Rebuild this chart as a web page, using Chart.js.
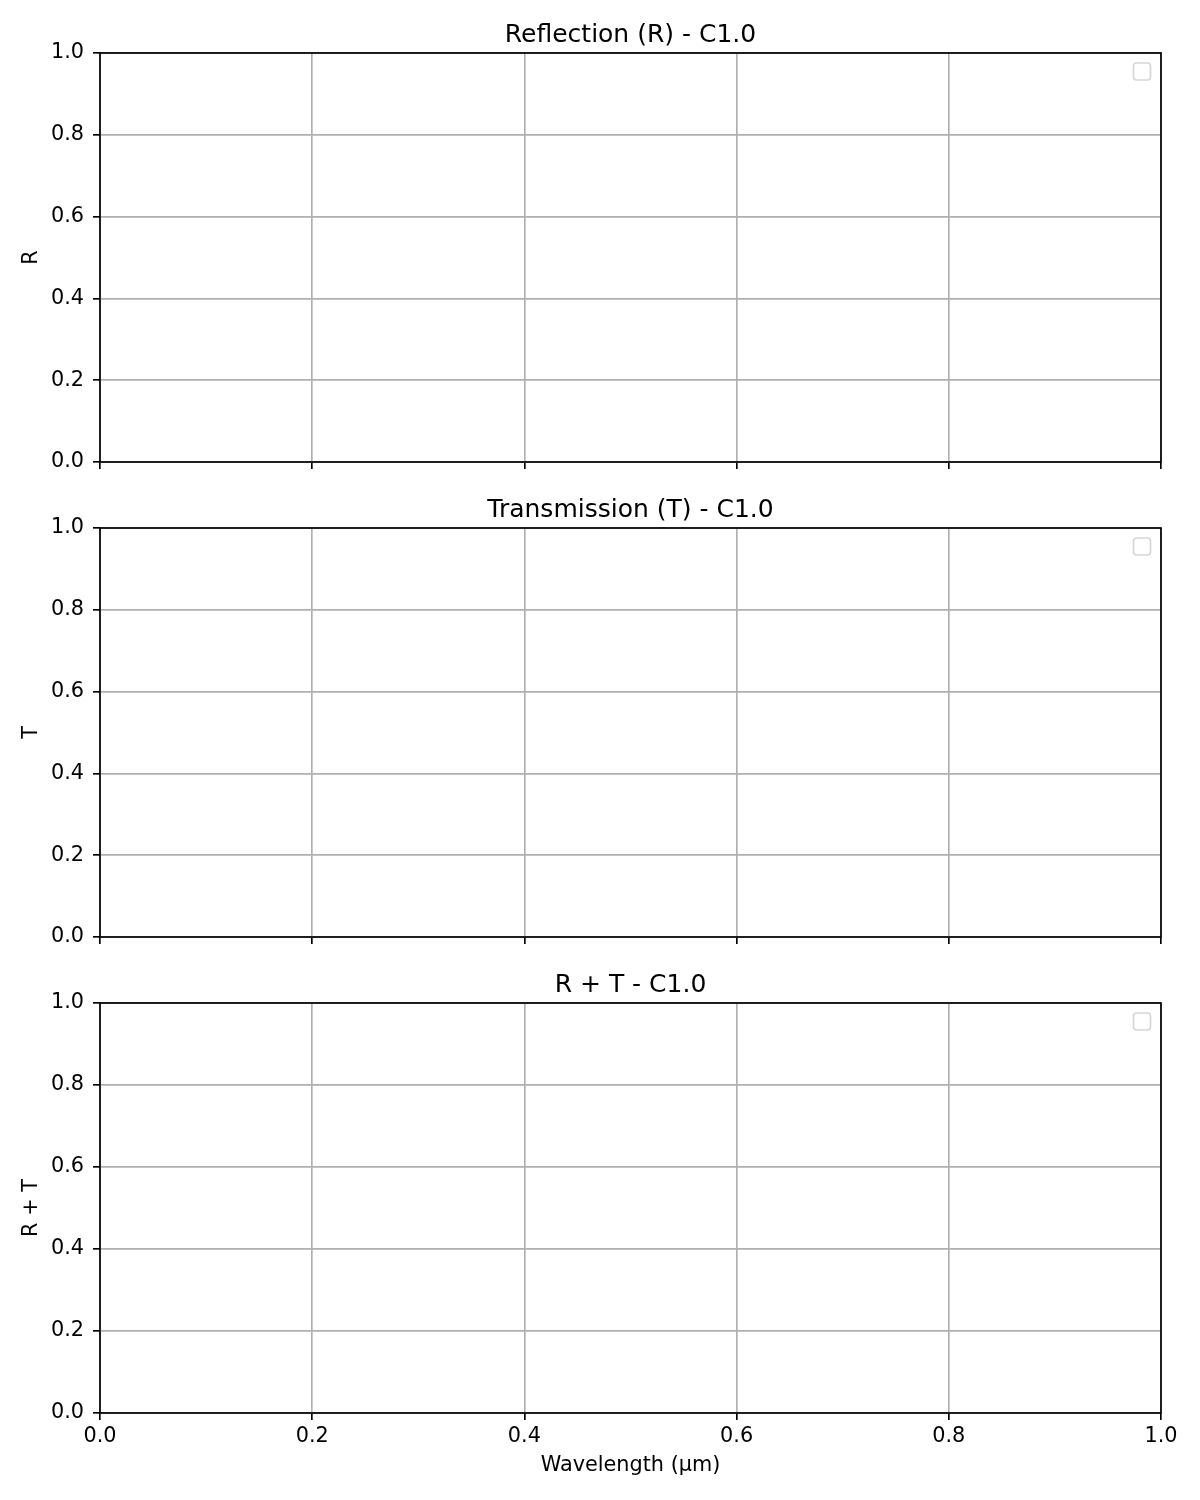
<!DOCTYPE html>
<html>
<head>
<meta charset="utf-8">
<script src="https://cdn.jsdelivr.net/npm/chart.js@4/dist/chart.umd.min.js"></script>
<style>
  html, body { margin: 0; padding: 0; background: #ffffff; }
  #wrap { position: relative; width: 1200px; height: 1500px; background: #ffffff; }
  .panel { position: absolute; left: 0; width: 1200px; }
  canvas { display: block; }
</style>
</head>
<body>
<div id="wrap">
  <div class="panel" style="top:0px;height:500px"><canvas id="c1" width="1200" height="500"></canvas></div>
  <div class="panel" style="top:475px;height:500px"><canvas id="c2" width="1200" height="500"></canvas></div>
  <div class="panel" style="top:950px;height:550px"><canvas id="c3" width="1200" height="550"></canvas></div>
</div>
<script>
// ---- data (the reference panels contain no plotted series) ----
const xTicks = [0.0, 0.2, 0.4, 0.6, 0.8, 1.0];
const yTicks = [0.0, 0.2, 0.4, 0.6, 0.8, 1.0];
const panelTitles = ['Reflection (R) - C1.0', 'Transmission (T) - C1.0', 'R + T - C1.0'];
const yLabels = ['R', 'T', 'R + T'];
const xLabel = 'Wavelength (\u00b5m)';
const seriesR = [];
const seriesT = [];
const seriesRT = [];
const panelSeries = [seriesR, seriesT, seriesRT];

const FONT = "'DejaVu Sans', 'Liberation Sans', sans-serif";
const TICK_PX = 20.8;
const TITLE_PX = 25;
const LW = 1.67;

const framePlugin = {
  id: 'frameAndDecor',
  afterDraw(chart, args, opts) {
    const { ctx, chartArea: a } = chart;
    ctx.save();
    // empty legend box (upper right)
    const bw = 17, bh = 17;
    const bx = a.right - 10.5 - bw, by = a.top + 10;
    ctx.beginPath();
    if (ctx.roundRect) ctx.roundRect(bx, by, bw, bh, 3); else ctx.rect(bx, by, bw, bh);
    ctx.fillStyle = 'rgba(255,255,255,0.8)';
    ctx.fill();
    ctx.strokeStyle = '#d6d6d6';
    ctx.lineWidth = LW;
    ctx.stroke();
    // axes frame
    ctx.strokeStyle = '#000000';
    ctx.lineWidth = LW;
    ctx.strokeRect(a.left, a.top, a.right - a.left, a.bottom - a.top);
    // title
    ctx.fillStyle = '#000000';
    ctx.font = TITLE_PX + 'px ' + FONT;
    ctx.textAlign = 'center';
    ctx.textBaseline = 'alphabetic';
    ctx.fillText(opts.title, (a.left + a.right) / 2, a.top - 11);
    ctx.restore();
  }
};

function makePanel(id, idx, showX, xHeight) {
  const ctx = document.getElementById(id).getContext('2d');
  return new Chart(ctx, {
    type: 'scatter',
    data: {
      datasets: [{
        label: yLabels[idx],
        data: panelSeries[idx],
        showLine: true,
        borderColor: '#1f77b4',
        pointRadius: 0
      }]
    },
    options: {
      responsive: false,
      animation: false,
      devicePixelRatio: 1,
      layout: { padding: { top: 53, left: 0, right: 39, bottom: 0 } },
      plugins: {
        legend: { display: false },
        tooltip: { enabled: false },
        title: { display: false },
        frameAndDecor: { title: panelTitles[idx] }
      },
      scales: {
        x: {
          type: 'linear',
          min: 0, max: 1,
          afterBuildTicks: s => { s.ticks = xTicks.map(v => ({ value: v })); },
          afterFit: s => { s.height = xHeight; },
          ticks: {
            display: showX,
            color: '#000000',
            font: { family: FONT, size: TICK_PX },
            padding: 4,
            maxRotation: 0,
            autoSkip: false,
            callback: v => showX ? Number(v).toFixed(1) : ''
          },
          grid: {
            color: '#b0b0b0',
            lineWidth: LW,
            tickColor: '#000000',
            tickWidth: LW,
            tickLength: 7,
            drawTicks: true
          },
          border: { display: false },
          title: {
            display: showX,
            text: xLabel,
            color: '#000000',
            font: { family: FONT, size: TICK_PX },
            padding: { top: 0, bottom: 22 }
          }
        },
        y: {
          type: 'linear',
          min: 0, max: 1,
          afterBuildTicks: s => { s.ticks = yTicks.map(v => ({ value: v })); },
          afterFit: s => { s.width = 100; },
          ticks: {
            color: '#000000',
            font: { family: FONT, size: TICK_PX },
            padding: 9,
            autoSkip: false,
            callback: v => Number(v).toFixed(1)
          },
          grid: {
            color: '#b0b0b0',
            lineWidth: LW,
            tickColor: '#000000',
            tickWidth: LW,
            tickLength: 7,
            drawTicks: true
          },
          border: { display: false },
          title: {
            display: true,
            text: yLabels[idx],
            color: '#000000',
            font: { family: FONT, size: TICK_PX },
            padding: { top: 19, bottom: 0 }
          }
        }
      }
    },
    plugins: [framePlugin]
  });
}

makePanel('c1', 0, false, 38);
makePanel('c2', 1, false, 38);
makePanel('c3', 2, true, 87);
</script>
</body>
</html>
